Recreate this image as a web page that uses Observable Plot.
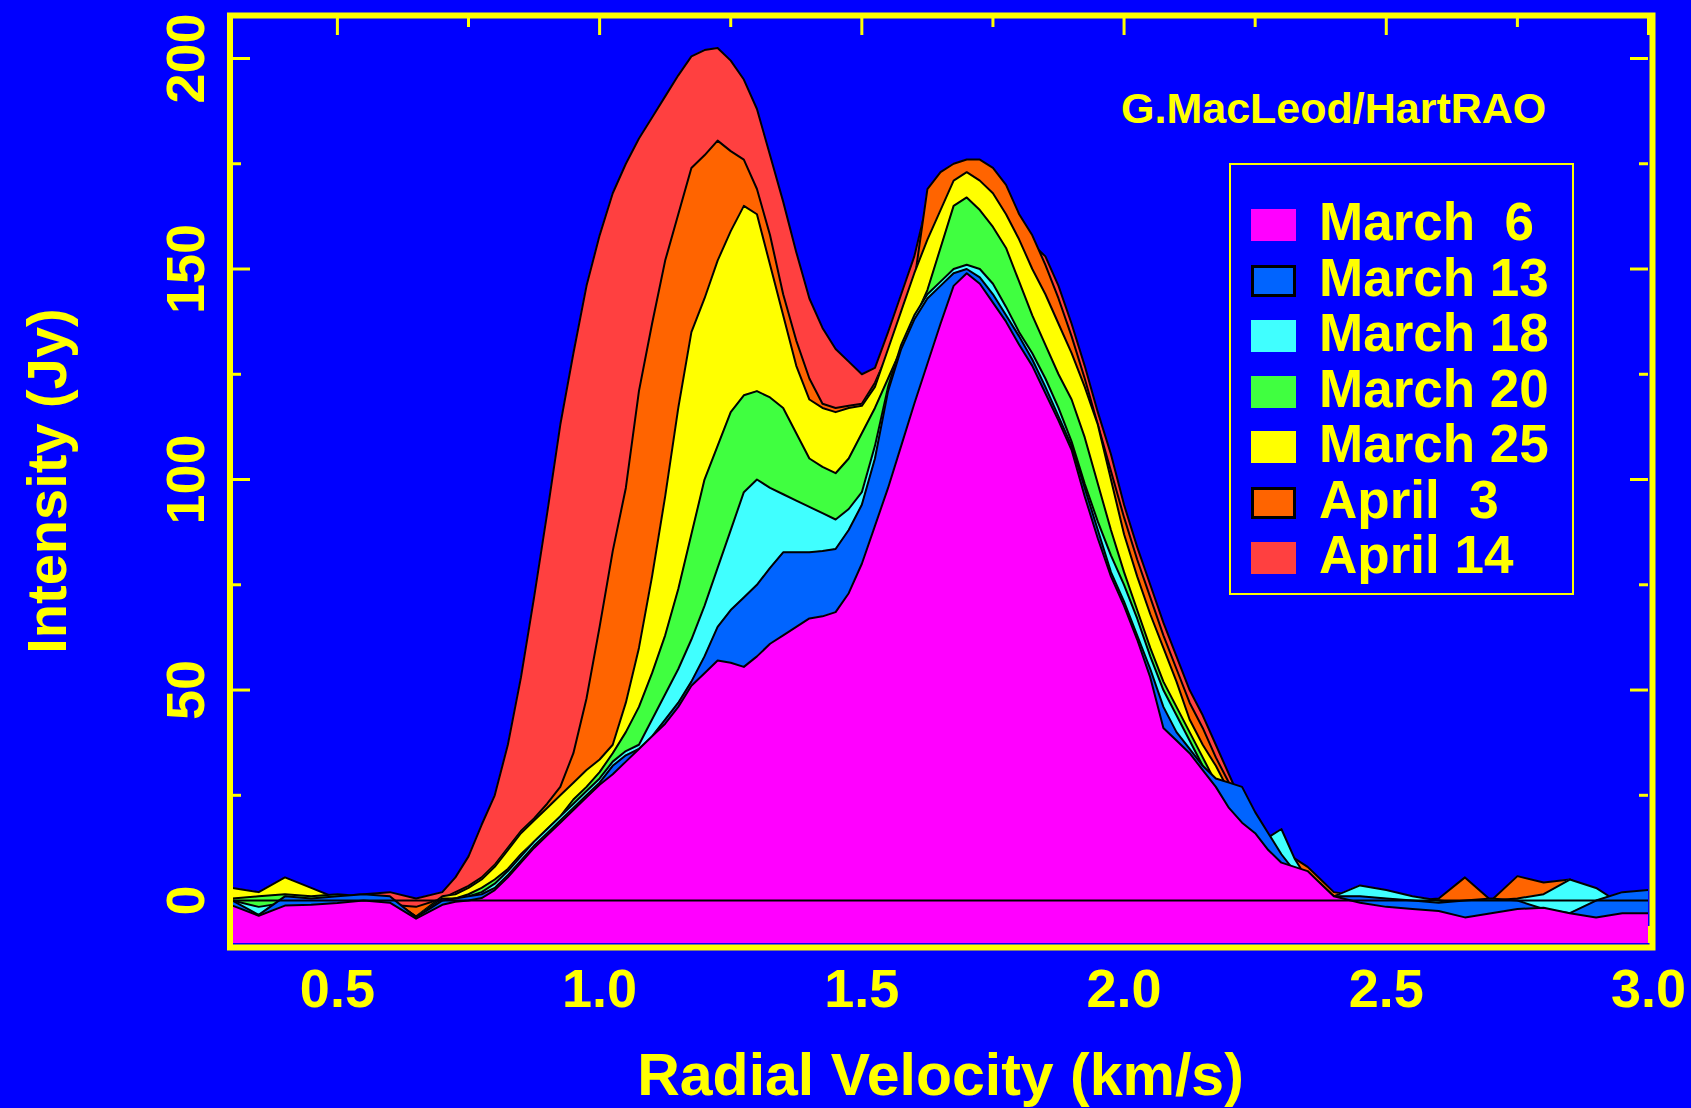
<!DOCTYPE html>
<html><head><meta charset="utf-8">
<script src="https://cdn.jsdelivr.net/npm/d3@7"></script>
<script src="https://cdn.jsdelivr.net/npm/@observablehq/plot@0.6"></script>
<style>
html,body{margin:0;padding:0;background:#0000ff;}
#wrap{position:relative;width:1691px;height:1108px;overflow:hidden;background:#0000ff;font-family:"Liberation Sans",Arial,sans-serif;font-weight:bold;color:#ffff00;}
#wrap svg{position:absolute;left:0;top:0;}
.credit{position:absolute;left:1121px;top:87px;font-size:43px;line-height:43px;white-space:pre;}
.legend{position:absolute;left:1229px;top:163px;width:341px;height:428px;border:2px solid #ffff00;}
.sw{position:absolute;width:45px;height:32px;box-sizing:border-box;}
.lt{position:absolute;font-size:53px;line-height:53px;white-space:pre;}
</style></head><body><div id="wrap"></div><script>
// ---- data ----
const velocity = [0.30,0.35,0.40,0.45,0.50,0.55,0.60,0.65,0.70,
0.725,0.75,0.775,0.80,0.825,0.85,0.875,0.90,0.925,0.95,0.975,1.00,
1.025,1.05,1.075,1.10,1.125,1.15,1.175,1.20,1.225,1.25,1.275,1.30,
1.325,1.35,1.375,1.40,1.425,1.45,1.475,1.50,1.525,1.55,1.575,1.60,
1.625,1.65,1.675,1.70,1.725,1.75,1.775,1.80,1.825,1.85,1.875,1.90,
1.925,1.95,1.975,2.00,2.025,2.05,2.075,2.10,2.125,2.15,2.175,2.20,
2.225,2.25,2.275,2.30,2.325,2.35,2.375,2.40,
2.45,2.50,2.55,2.60,2.65,2.70,2.75,2.80,2.85,2.90,2.95,3.00];

const march6 = [-1.2,-3.6,-1.2,-1.0,-0.6,0.0,-0.5,-4.3,-1.0,
-0.3,0.0,0.6,2.5,5.5,9,12.5,15.5,18.5,21.5,24.5,27.5,
30,33,36,39,42,46,51,54,57,56.5,55.5,58,
61,63,65,67,67.5,68.5,73,80,89,98,108,118,
127.5,137,146,149,146.5,142,137.5,132,127,120.5,114,107,
96,86,77,70,62,53,41,38,35,31,27,22,
18.5,16,12,9,8,7,4,1,
-0.5,-1.5,-2,-2.5,-4,-3,-2,-1.7,-3,-4,-3,-3];

const march13 = [0,-3.4,1,0.5,1,1.5,1,-4,0,
0.5,1,1.5,3,6,9.5,13,16,19,22,25,28,
32,34.5,36,39,43,47,52,58,65,69,72,75,
79,82.7,82.7,82.7,83,83.5,88,94,105,121,131,138,
143,146,149,150,148,144,139,134,128.5,122,115,108,
98,88,78,71,63,55,46,40,36,32,29,28,
27,21,16,11,7,5,3,1,
1,0.5,0,-0.5,0,0.5,0,-2,-3,0,2,2.5];

const march18 = [0,-1.5,-0.5,0.3,0.5,0.5,0.3,-4,0,
0.5,1,2,4,7,10.5,14,17,20,23,26,29,
33,35.5,37,43,49,55,62,70,79,88,97,100,
98,96.5,95,93.5,92,90.5,93,97,108,122,132,139,
144,147,150,151,150,146.5,141,135,130,124,117,109,
99,90,82,75,67,58,50,44,38,32,27,22,
18,15,15,17,10,5,3,1,
3.6,2.5,1,0,-1,0,0.5,1.5,5,3,-1,-2.5];

const march20 = [0.5,1,1.5,1,1.5,1,0.5,-3.8,0.5,
0.5,1.5,3,5,7.5,11,14,17,20,24,27,30.5,
35,40,46,54,63,74,87,100,108,116,120,121,
119.5,117,111,105,103,101.5,105,111,117,124,131,138,
145,155,165,167,164,160,155,147,139,132,125,119,
110,99,88,78,69,60,52,46,40,34,28,23,
19,15,12,9,7,5,3,1,
1.5,0,-1,-1,-1,-3.5,-1,0,-1,-3.5,-1,-1];

const march25 = [3,2,5.5,3,0.5,0.5,0.5,-3.8,1,
1.5,3,5,8,12,16,19,22,25,28,31,33.5,
37,47,60,77,96,117,135,143,152,159,165,163,
151,139,127,119,117,116,117,117.5,122,131,140,149,
157,164,171,173,171,168,163,157,150,144,137,130,
122,113,100,87,77,68,60,52,43,37,32,26,
21,16,12,9,7,6,4,1,
1,0.5,0,0,-0.5,-2.5,0,-1,-2,0,0,0];

const april3 = [0.5,0,0.5,1,1,0.5,-1,-1.5,0.5,
2,3.5,5.5,8.5,12.5,16.5,19.5,23,27,35,48,65,
83,98,121,137,152,163,174,177,180.5,178,176,169,
158,144,133,124,118,117,117.5,118,123,130,138,147,
169,173,175,176,176,174,170,163,158,151,143,134,
124,113,102,91,81,72,63,55,47,41,34,28,
22,17,14,11,10,8,5,2,
1,0.5,0,0.5,5.5,0,5.8,4.3,5,2,-1.5,-1];

const april14 = [1.5,0.5,0.5,0,1,1.5,2,0.5,2,
5.5,10.5,18,25,37,53,72,92,113,130,146,158,
168,175,181,186,191,196,200.5,202,202.5,199.5,195,188,
177,166,154,143,136,131,128,125,126.5,135,144,153,
166,171,173,173.5,172,170,165,160,156,153,146,137,
127,116,106,94,84,75,66,58,50,44,37,30,
23,17,13,9,6,4,2,1,
0,-1,-1.5,-2,-2.5,-1.5,-0.5,0,0.5,1,0.5,-1];

const seriesKeys   = ["march6","march13","march18","march20","march25","april3","april14"];
const seriesNames  = ["March  6","March 13","March 18","March 20","March 25","April  3","April 14"];
const seriesColors = ["#ff00ff","#0064ff","#40ffff","#40ff40","#ffff00","#ff6400","#ff4040"];
const swatchOutlined = [false,true,false,false,false,true,false];

const xMajorTicks = [0.5,1.0,1.5,2.0,2.5,3.0];
const xMinorTicks = [0.75,1.25,1.75,2.25,2.75];
const yMajorTicks = [0,50,100,150,200];
const yMinorTicks = [25,75,125,175];
const xTitle = "Radial Velocity (km/s)";
const yTitle = "Intensity (Jy)";
const credit = "G.MacLeod/HartRAO";

// ---- build ----
const seriesValues = {march6, march13, march18, march20, march25, april3, april14};
const table = velocity.map((v, i) => {
  const row = {v};
  for (const k of seriesKeys) row[k] = seriesValues[k][i];
  return row;
});

const W = 1691, H = 1108;
const mL = 232, mR = 43, mT = 18, mB = 165;
const frameW = W - mL - mR, frameH = H - mT - mB;
const xDomain = [0.3, 3.0], yDomain = [-10.2, 209.5];
const YEL = "#ffff00";
const FONT = "Liberation Sans, Arial, sans-serif";

const marks = [];
// ticks (inward, on all four sides)
const majorLen = 17, minorLen = 9;
marks.push(Plot.tickX(xMajorTicks, {x: d => d, stroke: YEL, strokeWidth: 3, insetBottom: frameH - majorLen}));
marks.push(Plot.tickX(xMinorTicks, {x: d => d, stroke: YEL, strokeWidth: 3, insetBottom: frameH - minorLen}));
marks.push(Plot.tickX(xMajorTicks, {x: d => d, stroke: YEL, strokeWidth: 3, insetTop: frameH - majorLen}));
marks.push(Plot.tickX(xMinorTicks, {x: d => d, stroke: YEL, strokeWidth: 3, insetTop: frameH - minorLen}));
marks.push(Plot.tickY(yMajorTicks, {y: d => d, stroke: YEL, strokeWidth: 3, insetRight: frameW - 18}));
marks.push(Plot.tickY(yMinorTicks, {y: d => d, stroke: YEL, strokeWidth: 3, insetRight: frameW - minorLen}));
marks.push(Plot.tickY(yMajorTicks, {y: d => d, stroke: YEL, strokeWidth: 3, insetLeft: frameW - 18}));
marks.push(Plot.tickY(yMinorTicks, {y: d => d, stroke: YEL, strokeWidth: 3, insetLeft: frameW - minorLen}));

// overlaid filled spectra, back to front
for (let i = seriesKeys.length - 1; i >= 0; i--) {
  const k = seriesKeys[i];
  marks.push(Plot.areaY(table, {x: "v", y1: yDomain[0], y2: k, fill: seriesColors[i], clip: true}));
  marks.push(Plot.lineY(table, {x: "v", y: k, stroke: "black", strokeWidth: 2, clip: true}));
}
marks.push(Plot.ruleY([0], {stroke: "black", strokeWidth: 2}));

// frame
marks.push(Plot.frame({stroke: YEL, strokeWidth: 6, insetLeft: -2.5, insetRight: -4, insetTop: -3, insetBottom: -4}));

// tick labels
marks.push(Plot.text(xMajorTicks, {x: d => d, frameAnchor: "bottom", dy: 46, text: d => d3.format(".1f")(d),
  fill: YEL, fontSize: 54, fontWeight: "bold", fontFamily: FONT, textAnchor: "middle", lineAnchor: "middle"}));
marks.push(Plot.text(yMajorTicks, {y: d => d, frameAnchor: "left", dx: -46, rotate: -90, text: d => String(d),
  fill: YEL, fontSize: 54, fontWeight: "bold", fontFamily: FONT, textAnchor: "middle", lineAnchor: "middle"}));
// axis titles
marks.push(Plot.text([xTitle], {frameAnchor: "bottom", dy: 133, text: d => d,
  fill: YEL, fontSize: 59, fontWeight: "bold", fontFamily: FONT, textAnchor: "middle", lineAnchor: "middle"}));
marks.push(Plot.text([yTitle], {frameAnchor: "left", dx: -184, rotate: -90, text: d => d,
  fill: YEL, fontSize: 56, fontWeight: "bold", fontFamily: FONT, textAnchor: "middle", lineAnchor: "middle"}));

const chart = Plot.plot({
  width: W, height: H,
  marginLeft: mL, marginRight: mR, marginTop: mT, marginBottom: mB,
  x: {domain: xDomain, axis: null},
  y: {domain: yDomain, axis: null},
  style: {background: "#0000ff", color: YEL, fontFamily: FONT},
  marks
});
const wrap = document.getElementById("wrap");
wrap.appendChild(chart);

// credit
const cr = document.createElement("div");
cr.className = "credit";
cr.textContent = credit;
wrap.appendChild(cr);

// legend
const lg = document.createElement("div");
lg.className = "legend";
const rowStep = 55.5;
seriesNames.forEach((name, i) => {
  const sw = document.createElement("div");
  sw.className = "sw";
  sw.style.left = "20px";
  sw.style.top = (44 + i * rowStep) + "px";
  sw.style.background = seriesColors[i];
  if (swatchOutlined[i]) sw.style.border = "3px solid #000";
  lg.appendChild(sw);
  const t = document.createElement("div");
  t.className = "lt";
  t.style.left = "88px";
  t.style.top = (30 + i * rowStep) + "px";
  t.textContent = name;
  lg.appendChild(t);
});
wrap.appendChild(lg);
</script></body></html>
